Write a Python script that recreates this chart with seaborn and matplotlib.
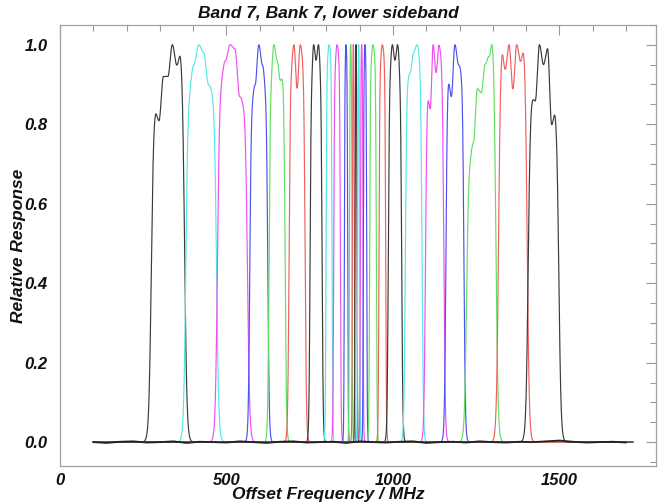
import numpy as np
import pandas as pd
import matplotlib
matplotlib.use("Agg")
import matplotlib.pyplot as plt
from matplotlib.ticker import MultipleLocator
import seaborn as sns

# Filter-bank channels: centre frequency and half-power width (MHz)
channel_ids = list(range(1, 26))
channel_centers = [324, 424, 518, 597, 652, 712, 769, 808, 832, 859, 873, 881, 889,
                   897, 906, 916, 940, 968, 1006, 1062, 1125, 1186, 1265, 1360, 1452]
channel_widths = [100, 92, 90, 54, 48, 48, 36, 18, 20, 10, 8, 6, 6,
                  6, 8, 10, 20, 20, 40, 50, 55, 54, 88, 86, 92]
channel_colors = ["#3a3a3a", "#55e8e8", "#f050f0", "#5050f0", "#60e060", "#f06060"] * 5
channel_colors = channel_colors[:25]

# Passband ripple across each channel, low edge to high edge
channel_ripple = [
    [0.85, 0.81, 0.92, 0.92, 1.00, 0.95, 1.00],
    [0.90, 0.95, 1.00, 0.98, 0.90, 0.89],
    [0.92, 0.96, 1.00, 0.99, 0.87, 0.86],
    [0.87, 0.90, 1.00, 0.95, 0.90],
    [0.93, 1.00, 0.96, 0.91, 0.93],
    [0.95, 1.00, 0.89, 1.00, 0.97],
    [0.93, 1.00, 0.96, 1.00, 0.95],
    [0.96, 1.00, 0.98],
    [0.94, 1.00, 0.97],
    [0.97, 1.00, 0.98],
    [0.97, 1.00, 0.98],
    [0.98, 1.00, 0.99],
    [0.98, 1.00, 0.99],
    [0.98, 1.00, 0.99],
    [0.97, 1.00, 0.98],
    [0.97, 1.00, 0.98],
    [0.96, 1.00, 0.97],
    [0.95, 1.00, 0.97],
    [0.95, 1.00, 0.96, 1.00, 0.94],
    [0.92, 0.93, 0.98, 1.00, 0.98],
    [0.89, 0.84, 1.00, 0.93, 1.00, 0.98],
    [0.93, 0.87, 1.00, 0.95, 0.94],
    [0.70, 0.73, 0.86, 0.85, 0.92, 0.94, 1.00],
    [1.00, 0.93, 0.99, 0.88, 0.99, 0.95, 1.00],
    [0.88, 0.86, 1.00, 0.95, 0.99, 0.80, 0.85],
]

# Measured baseline (off-band response), every 40 MHz from 100 MHz
baseline_freq = list(range(100, 1721, 40))
baseline_level = [0.000, -0.002, 0.001, 0.002, -0.001, 0.000, 0.002, -0.002, 0.001, 0.000,
                  -0.001, 0.002, 0.000, -0.002, 0.001, 0.002, -0.001, 0.000, 0.001, -0.002,
                  0.002, 0.000, -0.001, 0.001, 0.002, -0.002, 0.000, 0.001, -0.001, 0.002,
                  0.000, -0.001, 0.001, 0.000, 0.002, 0.004, 0.001, -0.001, 0.000, 0.001,
                  -0.001]

freq = np.arange(100.0, 1720.5, 0.5)


def ripple_curve(u, knots):
    """Smooth (cosine) interpolation of ripple knots over the normalised passband."""
    pos = np.linspace(0.1, 0.9, len(knots))
    u = np.clip(u, pos[0], pos[-1])
    idx = np.clip(np.searchsorted(pos, u) - 1, 0, len(knots) - 2)
    t = (u - pos[idx]) / (pos[idx + 1] - pos[idx])
    a = np.asarray(knots)[idx]
    b = np.asarray(knots)[idx + 1]
    return a + (b - a) * (1 - np.cos(np.pi * t)) / 2


def passband(f, center, width, knots):
    lo, hi = center - width / 2, center + width / 2
    s = 0.06 * width + 1.1
    edge = 0.25 * (1 + np.tanh((f - lo) / s)) * (1 + np.tanh((hi - f) / s))
    resp = edge * ripple_curve((f - lo) / (hi - lo), knots)
    return resp / resp.max() * max(knots)


frames = []
for cid, c, w, k in zip(channel_ids, channel_centers, channel_widths, channel_ripple):
    frames.append(pd.DataFrame({"freq": freq,
                                "response": passband(freq, c, w, k),
                                "channel": cid}))
df = pd.concat(frames, ignore_index=True)
base_df = pd.DataFrame({"freq": baseline_freq, "response": baseline_level})

sns.set_theme(style="white")
plt.rcParams["font.family"] = ["Liberation Sans Narrow", "Liberation Sans", "DejaVu Sans"]

fig = plt.figure(figsize=(6.63, 5.03), dpi=100)
ax = fig.add_axes([0.0905, 0.0736, 0.899, 0.877])

sns.lineplot(data=df, x="freq", y="response", hue="channel",
             palette=dict(zip(channel_ids, channel_colors)),
             estimator=None, sort=False, legend=False, linewidth=0.85, ax=ax)
sns.lineplot(data=base_df, x="freq", y="response", color="#222222",
             estimator=None, legend=False, linewidth=1.3, ax=ax)

ax.set_xlim(0, 1790)
ax.set_ylim(-0.06, 1.05)
ax.xaxis.set_major_locator(MultipleLocator(500))
ax.xaxis.set_minor_locator(MultipleLocator(100))
ax.yaxis.set_major_locator(MultipleLocator(0.2))
ax.yaxis.set_minor_locator(MultipleLocator(0.05))
ax.set_yticklabels([f"{v:.1f}" for v in ax.get_yticks()])
ax.tick_params(which="both", direction="in", top=True, right=True, color="#999999")
ax.tick_params(which="major", length=7, width=0.8, labelsize=12)
ax.tick_params(axis="y", which="major", pad=9)
ax.tick_params(axis="x", which="major", pad=5)
ax.tick_params(which="minor", length=4, width=0.8)
for lab in ax.get_xticklabels() + ax.get_yticklabels():
    lab.set_fontweight("bold")
    lab.set_fontstyle("italic")
    lab.set_color("#111111")
for sp in ax.spines.values():
    sp.set_color("#a0a0a0")
    sp.set_linewidth(0.9)

ax.set_xlabel("Offset Frequency / MHz", fontsize=12.5, fontweight="bold",
              fontstyle="italic", color="#111111", labelpad=-1)
ax.xaxis.label.set_x(0.45)
ax.set_ylabel("Relative Response", fontsize=12.5, fontweight="bold",
              fontstyle="italic", color="#111111", labelpad=-1)
ax.set_title("Band 7, Bank 7, lower sideband", fontsize=12.5, fontweight="bold",
             fontstyle="italic", color="#111111", pad=5, x=0.45)

fig.savefig("out.png", dpi=100)
